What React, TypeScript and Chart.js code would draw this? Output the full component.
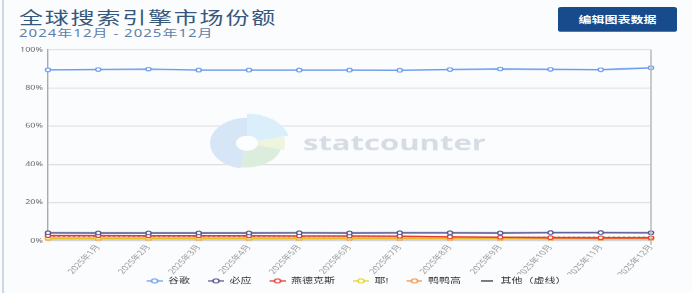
import React, { useEffect, useRef } from "react";
import { Chart, registerables } from "chart.js";

Chart.register(...registerables);

const SQUASH = 1.45;
const W = 692;
const H = Math.round(293 * SQUASH);
const FONT = '"Noto Sans", "Noto Sans CJK SC", sans-serif';

const categories = [
  "2024年12月", "2025年1月", "2025年2月", "2025年3月", "2025年4月", "2025年5月", "2025年6月",
  "2025年7月", "2025年8月", "2025年9月", "2025年10月", "2025年11月", "2025年12月",
];
const googleShare = [89.4, 89.6, 89.8, 89.3, 89.3, 89.3, 89.3, 89.2, 89.6, 89.9, 89.7, 89.5, 90.5];
const bingShare = [4.1, 4.0, 4.0, 4.0, 4.0, 4.1, 4.0, 4.1, 4.1, 4.0, 4.2, 4.2, 4.1];
const yandexShare = [2.6, 2.6, 2.5, 2.5, 2.5, 2.4, 2.4, 2.3, 2.0, 1.8, 1.6, 1.5, 1.5];
const yahooShare = [1.4, 1.4, 1.4, 1.4, 1.4, 1.4, 1.5, 1.5, 1.5, 1.4, 1.4, 1.4, 1.4];
const duckShare = [0.9, 0.9, 0.9, 0.9, 0.9, 0.9, 0.9, 0.9, 0.9, 0.9, 0.9, 0.9, 0.9];
const otherShare = [1.7, 1.7, 1.7, 1.7, 1.7, 1.7, 1.7, 1.7, 1.7, 1.7, 1.7, 1.7, 1.7];
const yTicks = [0, 20, 40, 60, 80, 100];

const seriesNames = ["谷歌", "必应", "燕德克斯", "耶!", "鸭鸭高", "其他（虚线）"];
const seriesColors = ["#6c9ded", "#56568f", "#e63b2b", "#e6d31e", "#f29447", "#333333"];

const LEGEND_GAP = 14;

function makeMarker(color: string, withCircle: boolean) {
  const c = document.createElement("canvas");
  c.width = 16 + LEGEND_GAP;
  c.height = 9;
  const g = c.getContext("2d")!;
  const x0 = LEGEND_GAP;
  g.strokeStyle = color;
  g.lineWidth = 2;
  g.beginPath();
  g.moveTo(x0 + (withCircle ? 0 : 2), 4.5);
  g.lineTo(x0 + (withCircle ? 16 : 14), 4.5);
  g.stroke();
  if (withCircle) {
    g.beginPath();
    g.arc(x0 + 8, 4.5, 3, 0, Math.PI * 2);
    g.fillStyle = "#ffffff";
    g.fill();
    g.lineWidth = 1.5;
    g.stroke();
  }
  return c;
}

const watermark = {
  id: "watermark",
  beforeDatasetsDraw(chart: any) {
    const { ctx, chartArea } = chart;
    const cx = chartArea.left + (chartArea.right - chartArea.left) * 0.33;
    const cy = chartArea.top + (chartArea.bottom - chartArea.top) * 0.49;
    const d = Math.PI / 180;
    const slices = [
      { a0: 100, a1: 270, r: 37, c: "#d6e6f6" },
      { a0: 270, a1: 345, r: 43, c: "#dbeffb" },
      { a0: 345, a1: 375, r: 38, c: "#eff4dc" },
      { a0: 15, a1: 100, r: 35, c: "#dcecdd" },
    ];
    ctx.save();
    for (const s of slices) {
      ctx.beginPath();
      ctx.moveTo(cx, cy);
      ctx.arc(cx, cy, s.r, s.a0 * d, s.a1 * d);
      ctx.closePath();
      ctx.fillStyle = s.c;
      ctx.fill();
    }
    ctx.beginPath();
    ctx.arc(cx, cy, 11, 0, Math.PI * 2);
    ctx.fillStyle = "#fcfdfe";
    ctx.fill();
    ctx.font = `bold 30px "Open Sans", sans-serif`;
    const w = ctx.measureText("statcounter").width;
    const size = (30 * 183) / w;
    ctx.font = `bold ${size}px "Open Sans", sans-serif`;
    ctx.fillStyle = "#d6dce6";
    ctx.textBaseline = "alphabetic";
    ctx.textAlign = "left";
    ctx.fillText("statcounter", cx + 56, cy + 10);
    ctx.restore();
  },
  afterDraw(chart: any) {
    const { ctx, chartArea } = chart;
    ctx.save();
    ctx.strokeStyle = "#b5b5b5";
    ctx.lineWidth = 1.4;
    ctx.beginPath();
    ctx.moveTo(chartArea.right, chartArea.top);
    ctx.lineTo(chartArea.right, chartArea.bottom + 6);
    ctx.stroke();
    ctx.restore();
  },
};

export default function App() {
  const ref = useRef<HTMLCanvasElement>(null);

  useEffect(() => {
    const canvas = ref.current!;
    const values = [googleShare, bingShare, yandexShare, yahooShare, duckShare, otherShare];
    const markers = seriesColors.map((c, i) => makeMarker(c, i < 5));
    const datasets = values.map((v, i) => ({
      label: seriesNames[i],
      data: v,
      borderColor: seriesColors[i],
      backgroundColor: "#ffffff",
      borderWidth: i === 5 ? 1.6 : 2.2,
      borderDash: i === 5 ? [2, 3] : [],
      pointRadius: i === 5 ? 0 : 2.6,
      pointBorderWidth: 1.5,
      pointBackgroundColor: "#ffffff",
      pointBorderColor: seriesColors[i],
      tension: 0,
    }));
    const chart = new Chart(canvas, {
      type: "line",
      data: { labels: categories, datasets },
      options: {
        responsive: false,
        animation: false,
        devicePixelRatio: 1,
        layout: { padding: { top: 72, right: 41, left: 0, bottom: 2 } },
        scales: {
          x: {
            grid: { display: false, drawTicks: false },
            border: { color: "#cfcfcf", width: 1.4 },
            afterFit: (s: any) => {
              s.height = 49;
            },
            ticks: {
              autoSkip: false,
              minRotation: 55,
              maxRotation: 55,
              padding: 4,
              color: "#9a9a9a",
              font: { size: 10, family: FONT },
              callback: (_v: any, i: number) => (i === 0 ? "" : categories[i]),
            },
          },
          y: {
            min: yTicks[0],
            max: yTicks[yTicks.length - 1],
            afterFit: (s: any) => {
              s.width = 48;
            },
            afterBuildTicks: (s: any) => {
              s.ticks = yTicks.map((v) => ({ value: v }));
            },
            grid: { color: "#dedede", lineWidth: 1.4, drawTicks: false },
            border: { color: "#aaaaaa", width: 1.4 },
            ticks: {
              padding: 5,
              color: "#666666",
              font: { size: 9, family: FONT },
              callback: (v: any) => v + "%",
            },
          },
        },
        plugins: {
          legend: {
            position: "bottom",
            fullSize: false,
            labels: {
              usePointStyle: true,
              pointStyleWidth: 16 + LEGEND_GAP,
              padding: 4,
              color: "#333333",
              font: { size: 11, family: FONT },
              generateLabels: (c: any) =>
                c.data.datasets.map((ds: any, i: number) => ({
                  text: ds.label,
                  fillStyle: "#ffffff",
                  strokeStyle: ds.borderColor,
                  lineWidth: 0,
                  pointStyle: markers[i],
                  hidden: false,
                  datasetIndex: i,
                  fontColor: "#333333",
                })),
            },
          },
          tooltip: { enabled: false },
        },
      },
      plugins: [watermark],
    } as any);
    return () => chart.destroy();
  }, []);

  return (
    <div
      style={{
        position: "fixed",
        left: 0,
        top: 0,
        width: W,
        height: H,
        transform: `scaleY(${293 / H})`,
        transformOrigin: "0 0",
        background: "#fbfcfe",
        overflow: "hidden",
        fontFamily: FONT,
      }}
    >
      <div style={{ position: "absolute", left: 2, top: 0, width: 1.5, height: H, background: "#cdd9ea" }} />
      <div
        style={{
          position: "absolute",
          left: 19,
          top: 12,
          fontSize: 24,
          lineHeight: "28px",
          letterSpacing: 1.8,
          color: "#37587d",
          whiteSpace: "nowrap",
        }}
      >
        全球搜索引擎市场份额
      </div>
      <div
        style={{
          position: "absolute",
          left: 19,
          top: 39,
          fontSize: 15,
          lineHeight: "18px",
          letterSpacing: 1.0,
          color: "#5e80a7",
          whiteSpace: "nowrap",
        }}
      >
        2024年12月 - 2025年12月
      </div>
      <div
        style={{
          position: "absolute",
          left: 558,
          top: 10,
          width: 119,
          height: 36,
          background: "#174b8c",
          borderRadius: 3,
          color: "#ffffff",
          fontSize: 13,
          fontWeight: "bold",
          display: "flex",
          alignItems: "center",
          justifyContent: "center",
          whiteSpace: "nowrap",
        }}
      >
        编辑图表数据
      </div>
      <canvas
        ref={ref}
        width={W}
        height={H}
        style={{ position: "absolute", left: 0, top: 0, width: W, height: H }}
      />
    </div>
  );
}
